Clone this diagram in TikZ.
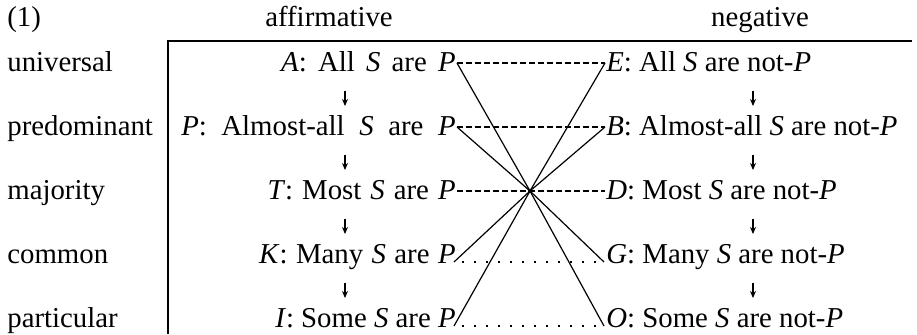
\documentclass[tikz,border=0pt]{standalone}
\usepackage{fontspec}
\setmainfont{Liberation Serif}
\usetikzlibrary{arrows.meta}
\begin{document}
\begin{tikzpicture}[x=0.5pt,y=-0.5pt,
 txt/.style={inner sep=0pt,font=\fontsize{14.4}{17}\selectfont},
 lab/.style={txt,anchor=base west},
 aff/.style={txt,anchor=base east,execute at begin node={\spaceskip=#1\relax}},
 aff/.default=4.5pt,
 neg/.style={txt,anchor=base west},
 frameline/.style={line width=0.75pt},
 contra/.style={line width=0.6pt},
 contrary/.style={line width=0.6pt,dash pattern=on 3pt off 1.5pt},
 subcon/.style={line width=1pt,dash pattern=on 0.9pt off 5.1pt},
 down/.style={line width=0.6pt,-{Stealth[length=3.5pt,width=3pt]}}]
\useasboundingbox (0,0) rectangle (917,334);
% headers
\node[lab] (h1) at (7,26) {(1)};
\node[txt,anchor=base] (haff) at (329,26) {affirmative};
\node[txt,anchor=base] (hneg) at (760,26) {negative};
% frame
\coordinate (fbot) at (168,334);
\coordinate (ftop) at (168,41);
\coordinate (fright) at (912,41);
\draw[frameline] (fbot) -- (ftop) -- (fright);
% row labels
\node[lab] (l1) at (7,71) {universal};
\node[lab] (l2) at (7,135) {predominant};
\node[lab] (l3) at (7,199) {majority};
\node[lab] (l4) at (7,263) {common};
\node[lab] (l5) at (7,327) {particular};
% affirmative
\node[aff=5.6pt] (A) at (456,71) {\textit{A}: All \textit{S} are \textit{P}};
\node[aff=7.3pt] (P) at (456,135) {\textit{P}: Almost-all \textit{S} are \textit{P}};
\node[aff=4.5pt] (T) at (456,199) {\textit{T}: Most \textit{S} are \textit{P}};
\node[aff=4.2pt] (K) at (456,263) {\textit{K}: Many \textit{S} are \textit{P}};
\node[aff=3.6pt] (I) at (456,327) {\textit{I}: Some \textit{S} are \textit{P}};
% negative
\node[neg] (E) at (606,71) {\textit{E}: All \textit{S} are not-\textit{P}};
\node[neg] (B) at (606,135) {\textit{B}: Almost-all \textit{S} are not-\textit{P}};
\node[neg] (D) at (606,199) {\textit{D}: Most \textit{S} are not-\textit{P}};
\node[neg] (G) at (606,263) {\textit{G}: Many \textit{S} are not-\textit{P}};
\node[neg] (O) at (606,327) {\textit{O}: Some \textit{S} are not-\textit{P}};
% connection points
\coordinate (pA) at (457,63);  \coordinate (cE) at (605,63);
\coordinate (pP) at (457,127); \coordinate (cB) at (605,127);
\coordinate (pT) at (457,191); \coordinate (cD) at (605,191);
\coordinate (X) at (530,191);
\coordinate (pK) at (454,262); \coordinate (cG) at (604,262);
\coordinate (pI) at (454,326); \coordinate (cO) at (604,326);
% contraries
\draw[contrary] (pA) -- (cE);
\draw[contrary] (pP) -- (cB);
\draw[contrary] (pT) -- (cD);
% subcontraries
\draw[subcon] ([xshift=4pt]pK) -- (cG);
\draw[subcon] ([xshift=4pt]pI) -- (cO);
% contradictories
\draw[contra] (pA) -- (X) -- (cO);
\draw[contra] (cE) -- (X) -- (pI);
\draw[contra] (pP) -- (X) -- (cG);
\draw[contra] (cB) -- (X) -- (pK);
\fill (X) circle (1pt);
% arrows
\foreach \y [count=\i] in {71,135,199,263} {
  \coordinate (la\i) at (345,\y+20);
  \coordinate (lb\i) at (345,\y+35);
  \coordinate (ra\i) at (753,\y+20);
  \coordinate (rb\i) at (753,\y+35);
  \draw[down] (la\i) -- (lb\i);
  \draw[down] (ra\i) -- (rb\i);
}
\end{tikzpicture}
\end{document}
